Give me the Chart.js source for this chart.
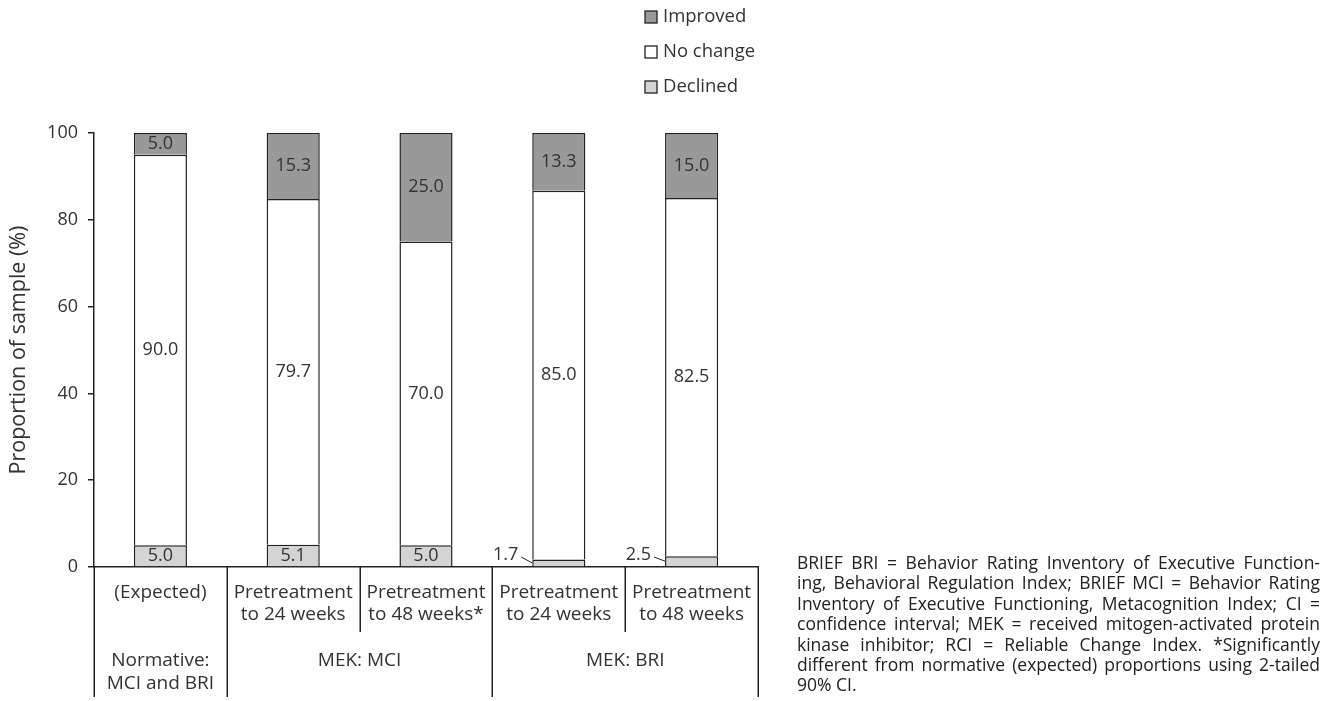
<!DOCTYPE html>
<html>
<head>
<meta charset="utf-8">
<script src="https://cdn.jsdelivr.net/npm/chart.js@4.4.1/dist/chart.umd.min.js"></script>
<style>
html,body{margin:0;padding:0;background:#fff;}
#wrap{position:relative;width:1338px;height:701px;}
</style>
</head>
<body>
<div id="wrap"><canvas id="c"></canvas></div>
<script>
const categories = [
  ['(Expected)'],
  ['Pretreatment', 'to 24 weeks'],
  ['Pretreatment', 'to 48 weeks*'],
  ['Pretreatment', 'to 24 weeks'],
  ['Pretreatment', 'to 48 weeks']
];
const groups = [
  {label: ['Normative:', 'MCI and BRI'], from: 0, to: 0},
  {label: ['MEK: MCI'], from: 1, to: 2},
  {label: ['MEK: BRI'], from: 3, to: 4}
];
const declined = [5.0, 5.1, 5.0, 1.7, 2.5];
const noChange = [90.0, 79.7, 70.0, 85.0, 82.5];
const improved = [5.0, 15.3, 25.0, 13.3, 15.0];
const yTicks = [0, 20, 40, 60, 80, 100];
const yTitle = 'Proportion of sample (%)';
const footLines = [
  'BRIEF BRI = Behavior Rating Inventory of Executive Function-',
  'ing, Behavioral Regulation Index; BRIEF MCI = Behavior Rating',
  'Inventory of Executive Functioning, Metacognition Index; CI =',
  'confidence interval; MEK = received mitogen-activated protein',
  'kinase inhibitor; RCI = Reliable Change Index. *Significantly',
  'different from normative (expected) proportions using 2-tailed',
  '90% CI.'
];

const FONT = '"Open Sans", "Noto Sans", sans-serif';
const TXT = '#333333';
const LINE = '#222222';

const overlay = {
  id: 'overlay',
  afterDatasetsDraw(chart) {
    const ctx = chart.ctx;
    ctx.save();
    ctx.font = '18px ' + FONT;
    ctx.fillStyle = TXT;
    ctx.textAlign = 'center';
    ctx.textBaseline = 'middle';
    chart.data.datasets.forEach((ds, di) => {
      const meta = chart.getDatasetMeta(di);
      meta.data.forEach((bar, i) => {
        const v = ds.data[i];
        const cy = (bar.y + bar.base) / 2;
        if (v < 3) {
          const left = bar.x - bar.width / 2;
          ctx.textAlign = 'right';
          ctx.fillText(v.toFixed(1), left - 14, 555);
          ctx.beginPath();
          ctx.strokeStyle = LINE;
          ctx.lineWidth = 1;
          ctx.moveTo(left - 11, 557);
          ctx.lineTo(left, cy);
          ctx.stroke();
          ctx.textAlign = 'center';
        } else {
          ctx.fillText(v.toFixed(1), bar.x, cy);
        }
      });
    });
    ctx.restore();
  },
  afterDraw(chart) {
    const ctx = chart.ctx;
    const area = chart.chartArea;
    const n = categories.length;
    const step = (area.right - area.left) / n;
    const edge = i => area.left + step * i;
    ctx.save();
    ctx.strokeStyle = LINE;
    ctx.lineWidth = 1.5;
    const groupEdges = new Set([0]);
    groups.forEach(g => { groupEdges.add(g.from); groupEdges.add(g.to + 1); });
    for (let i = 0; i <= n; i++) {
      const x = Math.round(edge(i)) + 0.25;
      const bottom = groupEdges.has(i) ? 697 : 632;
      ctx.beginPath();
      ctx.moveTo(x, area.bottom);
      ctx.lineTo(x, bottom);
      ctx.stroke();
    }
    ctx.font = '19px ' + FONT;
    ctx.fillStyle = TXT;
    ctx.textAlign = 'center';
    ctx.textBaseline = 'middle';
    groups.forEach(g => {
      const cx = (edge(g.from) + edge(g.to + 1)) / 2;
      g.label.forEach((t, k) => ctx.fillText(t, cx, 661 + k * 23));
    });
    const items = [
      {t: 'Improved', c: '#999999', y: 17},
      {t: 'No change', c: '#ffffff', y: 52},
      {t: 'Declined', c: '#d4d4d4', y: 87}
    ];
    ctx.font = '18.5px ' + FONT;
    ctx.textAlign = 'left';
    items.forEach(it => {
      ctx.fillStyle = it.c;
      ctx.fillRect(645, it.y - 6, 12, 12);
      ctx.lineWidth = 1.3;
      ctx.strokeStyle = LINE;
      ctx.strokeRect(645, it.y - 6, 12, 12);
      ctx.fillStyle = TXT;
      ctx.fillText(it.t, 663, it.y);
    });
    ctx.font = '17.5px ' + FONT;
    ctx.fillStyle = '#222';
    ctx.textBaseline = 'middle';
    const fx = 797, fw = 523;
    footLines.forEach((line, li) => {
      const y = 564 + li * 20.4;
      const words = line.split(' ');
      if (li === footLines.length - 1 || words.length < 2) {
        ctx.fillText(line, fx, y);
        return;
      }
      const ww = words.map(w => ctx.measureText(w).width);
      const total = ww.reduce((a, b) => a + b, 0);
      let gap = (fw - total) / (words.length - 1);
      if (gap < 1.5) gap = 1.5;
      let x = fx;
      words.forEach((w, k) => { ctx.fillText(w, x, y); x += ww[k] + gap; });
    });
    ctx.restore();
  }
};

const common = {borderColor: LINE, borderSkipped: false, barPercentage: 0.4, categoryPercentage: 1.0,
  borderWidth: {left: 1.5, right: 1.5, top: 1.5, bottom: 0}};

new Chart(document.getElementById('c'), {
  type: 'bar',
  data: {
    labels: categories,
    datasets: [
      Object.assign({label: 'Declined', data: declined, backgroundColor: '#d4d4d4'}, common),
      Object.assign({label: 'No change', data: noChange, backgroundColor: '#ffffff'}, common),
      Object.assign({label: 'Improved', data: improved, backgroundColor: '#999999'}, common)
    ]
  },
  options: {
    responsive: true,
    maintainAspectRatio: false,
    animation: false,
    layout: {padding: {top: 133, right: 580, bottom: 0, left: 0}},
    plugins: {legend: {display: false}, tooltip: {enabled: false}},
    scales: {
      x: {
        stacked: true,
        grid: {display: false, drawTicks: false},
        border: {display: true, color: LINE, width: 1.5},
        ticks: {font: {family: FONT, size: 19, lineHeight: 22/19}, color: TXT, padding: 15, maxRotation: 0, autoSkip: false},
        afterFit(s) { s.height = 134; }
      },
      y: {
        stacked: true,
        min: 0, max: 100,
        afterBuildTicks(s) { s.ticks = yTicks.map(v => ({value: v})); },
        grid: {display: true, drawOnChartArea: false, drawTicks: true, tickLength: 6, color: LINE, lineWidth: 1.5},
        border: {display: true, color: LINE, width: 1.5},
        ticks: {font: {family: FONT, size: 18}, color: TXT, padding: 10},
        title: {display: true, text: yTitle, font: {family: FONT, size: 21.5}, color: TXT, padding: {top: 6, bottom: 0}},
        afterFit(s) { s.width = 94; }
      }
    }
  },
  plugins: [overlay]
});
</script>
</body>
</html>
